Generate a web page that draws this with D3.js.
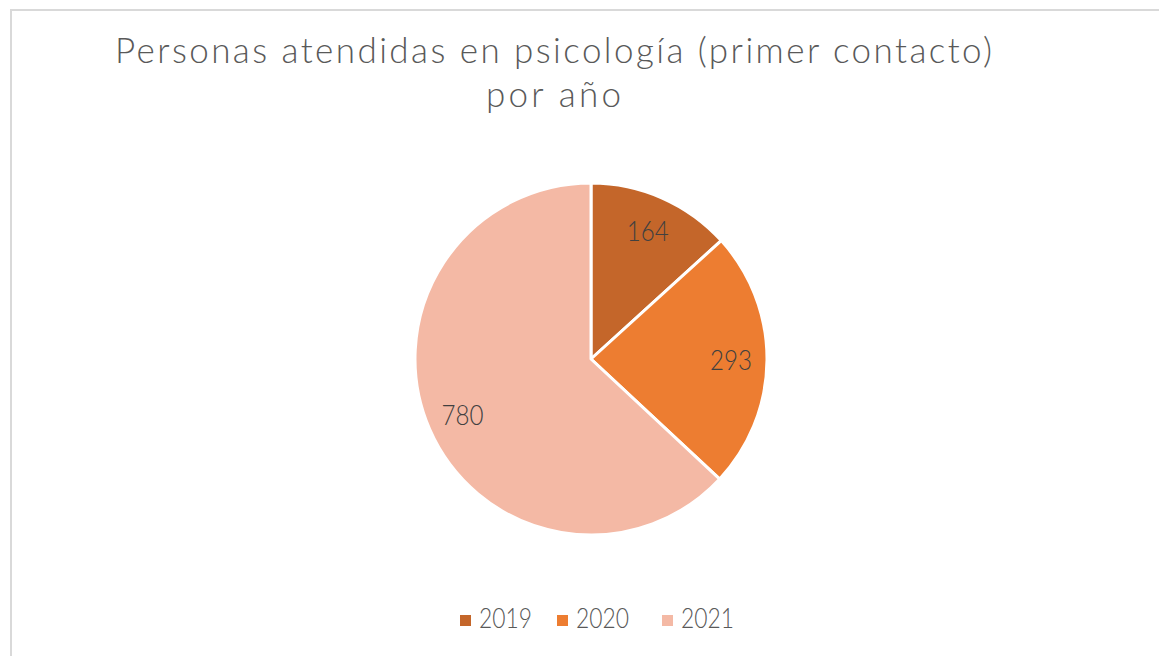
<!DOCTYPE html>
<html><head><meta charset="utf-8">
<script src="https://cdn.jsdelivr.net/npm/d3@7"></script>
<style>
html,body{margin:0;padding:0;background:#fff;}
svg{display:block;font-family:Lato, "Open Sans", sans-serif;}
</style></head>
<body>
<svg id="chart" width="1159" height="656"></svg>
<script>
const categories = ["2019", "2020", "2021"];
const values = [164, 293, 780];
const colors = ["#C4662A", "#ED7D31", "#F4B9A5"];
const titleLines = ["Personas atendidas en psicología (primer contacto)", "por año"];
const titleWidths = [877, 135];

const svg = d3.select("#chart");
const W = 1159, H = 656;

svg.append("rect").attr("x", 11).attr("y", 10).attr("width", W + 10).attr("height", H + 10)
  .attr("fill", "#fff").attr("stroke", "#d9d9d9").attr("stroke-width", 2);

titleLines.forEach((t, i) => {
  svg.append("text").attr("text-anchor", "middle").attr("fill", "#595959")
    .attr("font-size", 35).attr("font-weight", 300)
    .attr("x", 553.5).attr("y", 63 + i * 44)
    .attr("textLength", titleWidths[i]).attr("lengthAdjust", "spacing")
    .text(t);
});

const cx = 591, cy = 359, R = 176;
const data = categories.map((c, i) => ({cat: c, value: values[i], color: colors[i]}));
const pie = d3.pie().value(d => d.value).sort(null);
const arcs = pie(data);
const arc = d3.arc().innerRadius(0).outerRadius(R);
const labelArc = d3.arc().innerRadius(140).outerRadius(140);

const g = svg.append("g").attr("transform", `translate(${cx},${cy})`);
g.selectAll("path").data(arcs).enter().append("path")
  .attr("d", arc).attr("fill", d => d.data.color)
  .attr("stroke", "#fff").attr("stroke-width", 3).attr("stroke-linejoin", "round");

g.selectAll("text.lbl").data(arcs).enter().append("text").attr("class", "lbl")
  .attr("transform", d => `translate(${labelArc.centroid(d)})`)
  .attr("text-anchor", "middle").attr("dy", "0.36em")
  .attr("fill", "#404040").attr("font-size", 27).attr("font-weight", 300)
  .attr("textLength", 42).attr("lengthAdjust", "spacingAndGlyphs")
  .text(d => d.data.value);

// legend
const legendX = [460, 557, 662];
const lg = svg.append("g");
data.forEach((d, i) => {
  lg.append("rect").attr("x", legendX[i]).attr("y", 615).attr("width", 11).attr("height", 11).attr("fill", d.color);
  lg.append("text").attr("x", legendX[i] + 19).attr("y", 628).attr("fill", "#595959")
    .attr("font-size", 27).attr("font-weight", 300)
    .attr("textLength", 53).attr("lengthAdjust", "spacingAndGlyphs").text(d.cat);
});
</script>
</body></html>
